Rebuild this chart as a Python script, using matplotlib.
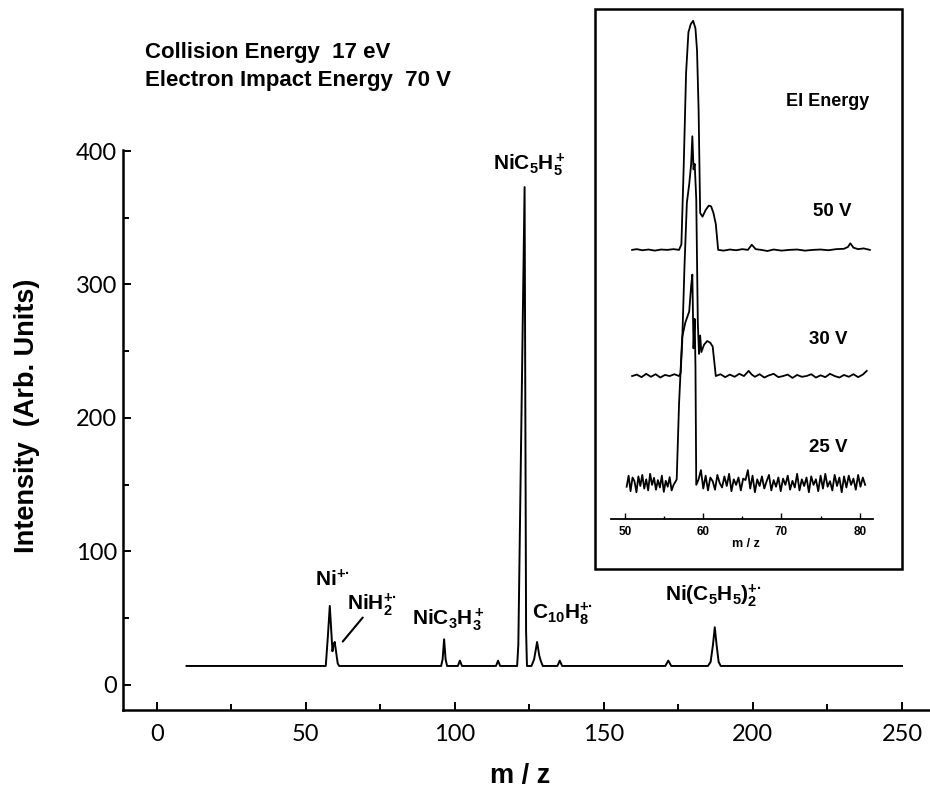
import matplotlib
matplotlib.use('Agg')
import matplotlib.pyplot as plt
from matplotlib.patches import Rectangle
from matplotlib.font_manager import FontProperties

plt.rcParams['font.family'] = ['Liberation Sans', 'DejaVu Sans']
plt.rcParams['mathtext.default'] = 'regular'

#==============================================================================
# Data
#==============================================================================
# main trace: m/z and intensity (arb. units)
mz = [10.0, 56.7, 57.4, 58.05, 58.5, 58.95, 59.3, 59.7, 60.2, 60.7, 61.2,
      95.4, 95.9, 96.4, 96.9, 97.4,
      101.0, 101.7, 102.4,
      113.8, 114.5, 115.2,
      120.9, 121.3, 123.4, 123.9, 124.2,
      125.7, 126.6, 127.6, 128.3, 128.8, 129.5,
      134.4, 135.2, 136.0,
      170.6, 171.6, 172.6,
      184.9, 185.8, 186.6, 187.2, 187.8, 188.5, 189.2,
      250.0]
intensity = [14, 14, 36, 59, 42, 25, 30, 32, 24, 16, 14,
             14, 19, 34, 19, 14,
             14, 18, 14,
             14, 18, 14,
             14, 30, 373, 40, 14,
             14, 19, 32, 22, 18, 14,
             14, 18, 14,
             14, 18, 14,
             14, 17, 30, 43, 30, 17, 14,
             14]

x_ticks = [0, 50, 100, 150, 200, 250]
x_tick_labels = ['0', '50', '100', '150', '200', '250']
y_ticks = [0, 100, 200, 300, 400]
y_tick_labels = ['0', '100', '200', '300', '400']

# ion labels (text, m/z and intensity of the label baseline start)
ion_labels = [r'NiC$_5$H$_5^+$', r'Ni$^{+·}$', r'NiH$_2^{+·}$',
              r'NiC$_3$H$_3^+$', r'C$_{10}$H$_8^{+·}$',
              r'Ni(C$_5$H$_5$)$_2^{+·}$']
ion_mz = [112.8, 53.0, 63.7, 85.5, 125.9, 170.5]
ion_int = [386, 74, 56, 45, 49, 62.5]

# pointer from the NiH2 label to its peak
pointer_from = (69.1, 50.3)
pointer_to = (62.4, 32.3)

# inset: EI energy series, intensity relative to each trace baseline
mz_50 = [50.9, 51.5, 52.2, 53.0, 53.8, 54.6, 55.4, 56.2, 56.9,
         57.2, 57.5, 57.8, 58.1, 58.4, 58.7, 59.0, 59.2, 59.4, 59.6, 59.9,
         60.3, 60.7, 61.0, 61.3, 61.6, 61.9,
         62.6, 63.4, 64.2, 65.0, 65.7, 66.2, 66.7, 67.4, 68.2, 69.0,
         70.0, 71.0, 72.0, 73.0, 74.0, 75.0, 76.0, 77.0, 78.0,
         78.5, 78.8, 79.2, 79.8, 80.5, 81.3]
i_50 = [0, 2, -1, 1, -2, 1, 0, 2, 0,
        15, 230, 480, 590, 612, 621, 600, 540, 380, 100, 90,
        108, 120, 118, 100, 70, 0,
        -2, 1, -1, 2, 0, 14, 2, 0, -3, 1,
        -2, 0, 1, -2, 0, 1, -1, 2, 3,
        8, 18, 6, 2, 4, 0]

mz_30 = [50.9, 51.5, 52.1, 52.7, 53.3, 53.9, 54.5, 55.1, 55.7, 56.3, 56.9,
         57.1, 57.3, 57.6, 57.9, 58.2, 58.45, 58.6, 58.75, 58.9, 59.1,
         59.3, 59.45, 59.6, 59.75, 60.1, 60.5, 60.9, 61.2, 61.4, 61.6,
         62.2, 62.8, 63.4, 64.0, 64.6, 65.2, 65.8, 66.2, 66.6,
         67.2, 67.8, 68.4, 69.0, 69.6, 70.2, 70.8, 71.4, 72.0, 72.6,
         73.2, 73.8, 74.4, 75.0, 75.6, 76.2, 76.8, 77.4, 78.0, 78.6,
         79.2, 79.8, 80.4, 80.9]
i_30 = [0, 4, -3, 6, -2, 5, -4, 3, 0, 5, 0,
        8, 90, 300, 470, 520, 575, 650, 560, 575, 480,
        145, 60, 110, 65, 85, 95, 90, 80, 40, 0,
        5, -3, 4, -2, 6, 0, 14, 4, -2,
        5, -4, 2, 6, -3, 0, 4, -5, 3, -2,
        0, 5, -4, 2, -3, 6, 0, -4, 3, -2,
        5, -3, 4, 14]

mz_25 = [50.2, 50.45, 50.7, 50.95, 51.2, 51.45, 51.7, 51.95, 52.2, 52.45,
         52.7, 52.95, 53.2, 53.45, 53.7, 53.95, 54.2, 54.45, 54.7, 54.95,
         55.2, 55.45, 55.7, 55.95, 56.2, 56.45,
         56.6, 56.9, 57.3, 57.7, 58.2, 58.45, 58.6, 58.75, 58.9, 59.0, 59.1,
         59.4, 59.7, 60.0, 60.3, 60.6, 60.9, 61.2, 61.5, 61.8, 62.1,
         62.4, 62.7, 63.0, 63.3, 63.6, 63.9, 64.2, 64.5, 64.8, 65.1,
         65.4, 65.7, 66.0, 66.3, 66.6, 66.9, 67.2, 67.5, 67.8, 68.1,
         68.4, 68.7, 69.0, 69.3, 69.6, 69.9, 70.2, 70.5, 70.8, 71.1,
         71.4, 71.7, 72.0, 72.3, 72.6, 72.9, 73.2, 73.5, 73.8, 74.1,
         74.4, 74.7, 75.0, 75.3, 75.6, 75.9, 76.2, 76.5, 76.8, 77.1,
         77.4, 77.7, 78.0, 78.3, 78.6, 78.9, 79.2, 79.5, 79.8, 80.1,
         80.4, 80.7]
i_25 = [-10, 20, -22, 15, 5, -25, 18, -8, 22, -15,
        10, -20, 25, -5, 14, -18, 8, -12, 20, -24,
        6, -10, 16, -20, -5, 4,
        10, 215, 395, 435, 465, 535, 565, 365, 445, 315, -5,
        10, 35, -15, 20, -20, 15, 5, -18, 22, 0,
        -12, 18, -8, 25, -22, 10, -5, 15, -20, 12,
        8, 35, -15, 20, -25, 10, -8, 18, -15, 5,
        22, -20, 8, -10, 15, -22, 12, -5, 20, -18,
        6, -12, 25, -20, 10, -8, 15, -25, 18, -5,
        10, -22, 20, -15, 25, -10, 5, -20, 22, -8,
        15, -25, 18, -12, 20, -5, 12, -18, 22, -10,
        15, -5]

inset_mz = [mz_50, mz_30, mz_25]
inset_int = [i_50, i_30, i_25]
inset_offsets = [729, 387, 97]
inset_names = ['50 V', '30 V', '25 V']
inset_name_mz = [76.5, 76.0, 76.0]
inset_name_y = [832, 487, 192]

inset_ticks = [50, 60, 70, 80]
inset_tick_labels = ['50', '60', '70', '80']

#==============================================================================
# Figure
#==============================================================================
fig = plt.figure(figsize=(9.3, 7.88), dpi=100)
ax = fig.add_axes([0.132, 0.099, 0.868, 0.711])

ax.plot(mz, intensity, color='black', lw=1.4)

ax.set_xlim(-11.4, 259.4)
ax.set_ylim(-19, 401)

tick_font = FontProperties(family='Lato', weight='normal', size=17)
ax.set_xticks(x_ticks, labels=x_tick_labels, fontproperties=tick_font)
ax.set_yticks(y_ticks, labels=y_tick_labels, fontproperties=tick_font)
ax.set_xticks([25, 75, 125, 175, 225], minor=True)
ax.set_yticks([50, 150, 250, 350], minor=True)
ax.tick_params(which='both', direction='in', width=1.4)
ax.tick_params(which='major', length=6)
ax.tick_params(which='minor', length=4)
ax.tick_params(axis='x', pad=10)
ax.tick_params(axis='y', pad=4)

for side in ['top', 'right']:
    ax.spines[side].set_visible(False)
for side in ['left', 'bottom']:
    ax.spines[side].set_linewidth(1.8)

ax.set_ylabel('Intensity  (Arb. Units)', fontsize=19.5, fontweight='bold',
              va='center')
ax.yaxis.set_label_coords(-0.119, 0.525)
ax.set_xlabel('m / z', fontsize=19.5, fontweight='bold', va='center')
ax.xaxis.set_label_coords(0.492, -0.118)

for txt, xm, yi in zip(ion_labels, ion_mz, ion_int):
    ax.text(xm, yi, txt, fontsize=15, fontweight='bold', ha='left',
            va='baseline')

ax.annotate('', xy=pointer_to, xytext=pointer_from,
            arrowprops=dict(arrowstyle='-', lw=1.5, color='black',
                            shrinkA=0, shrinkB=0))

fig.text(0.156, 0.9264, 'Collision Energy  17 eV', fontsize=16,
         fontweight='bold', va='baseline')
fig.text(0.156, 0.8909, 'Electron Impact Energy  70 V', fontsize=16,
         fontweight='bold', va='baseline')

# inset frame
fig.patches.append(Rectangle((0.6398, 0.2779), 0.3301, 0.7107, fill=False,
                             lw=1.8, edgecolor='black',
                             transform=fig.transFigure, figure=fig))

axi = fig.add_axes([0.657, 0.3416, 0.2817, 0.647])
axi.patch.set_visible(False)
for m, v, off in zip(inset_mz, inset_int, inset_offsets):
    axi.plot(m, [val + off for val in v], color='black', lw=1.3)

axi.set_xlim(48.2, 81.7)
axi.set_ylim(0, 1382)
for side in ['top', 'right', 'left']:
    axi.spines[side].set_visible(False)
axi.spines['bottom'].set_linewidth(1.3)
axi.set_yticks([])
axi.set_xticks(inset_ticks, labels=inset_tick_labels, fontsize=8.5,
               fontweight='bold')
axi.set_xticks([55, 65, 75], minor=True)
axi.tick_params(which='both', direction='in', width=1.0, pad=5)
axi.tick_params(which='major', length=4)
axi.tick_params(which='minor', length=2.5)

axi.text(65.4, -68, 'm / z', fontsize=9, fontweight='bold', ha='center',
         va='center')
axi.text(75.9, 1132, 'EI Energy', fontsize=13, fontweight='bold',
         ha='center', va='center')
for name, xm, yv in zip(inset_names, inset_name_mz, inset_name_y):
    axi.text(xm, yv, name, fontsize=13.5, fontweight='bold', ha='center',
             va='center')

plt.savefig('out.png', dpi=100)
